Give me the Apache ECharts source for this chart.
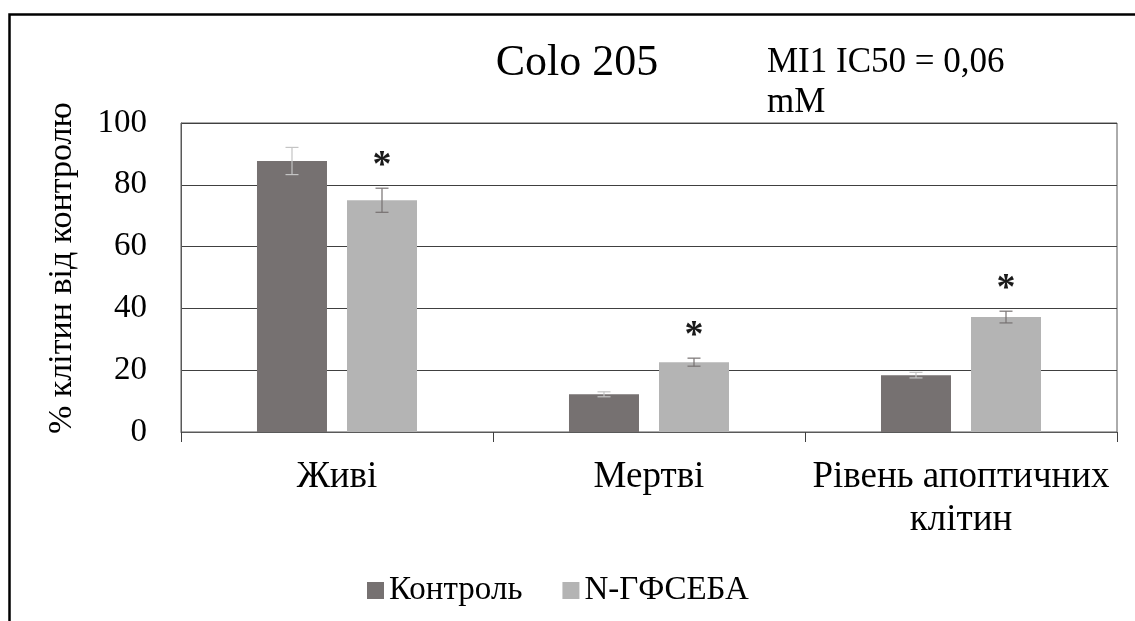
<!DOCTYPE html>
<html>
<head>
<meta charset="utf-8">
<script src="https://cdn.jsdelivr.net/npm/echarts@6/dist/echarts.min.js"></script>
<style>
  html, body { margin: 0; padding: 0; background: #fff; }
  #chart { width: 1135px; height: 621px; }
</style>
</head>
<body>
<div id="chart"></div>
<script>
// Cell groups on the category axis
const categories = ['Живі', 'Мертві', 'Рівень апоптичних\nклітин'];
// Series names
const seriesNames = ['Контроль', 'N-ГФСЕБА'];
// Mean values, % of control
const controlValues = [87.7, 12.2, 18.4];
const treatedValues = [75.0, 22.6, 37.2];
// Error bar half-lengths
const controlErrors = [4.4, 0.8, 0.9];
const treatedErrors = [3.9, 1.3, 1.9];
// Significance marks above the treated bars
const treatedMarks = ['*', '*', '*'];
// Value axis ticks
const yTicks = { min: 0, max: 100, interval: 20 };

const FONT = '"Liberation Serif", "Times New Roman", serif';
const COLORS = ['#767171', '#b4b4b4'];
const ERR_COLORS = ['#c4c4c4', '#767171'];
// bar centre offset from category centre, as a share of the band width
const BAR_SHIFT = 45 / 312;

function errorBarRenderer(side, color) {
  return function (params, api) {
    const idx = api.value(0);
    const v = api.value(1);
    const e = api.value(2);
    const band = api.size([1, 0])[0];
    const x = api.coord([idx, v])[0] + side * band * BAR_SHIFT;
    const yTop = api.coord([idx, v + e])[1];
    const yBot = api.coord([idx, v - e])[1];
    const cap = 6.5;
    const st = { stroke: color, lineWidth: 1.2 };
    return {
      type: 'group',
      children: [
        { type: 'line', shape: { x1: x, y1: yTop, x2: x, y2: yBot }, style: st },
        { type: 'line', shape: { x1: x - cap, y1: yTop, x2: x + cap, y2: yTop }, style: st },
        { type: 'line', shape: { x1: x - cap, y1: yBot, x2: x + cap, y2: yBot }, style: st }
      ]
    };
  };
}

function markRenderer(side) {
  return function (params, api) {
    const idx = api.value(0);
    const v = api.value(1);
    const e = api.value(2);
    const band = api.size([1, 0])[0];
    const x = api.coord([idx, v])[0] + side * band * BAR_SHIFT;
    const yTop = api.coord([idx, v + e])[1];
    return {
      type: 'text',
      style: {
        x: x,
        y: yTop - 22,
        text: treatedMarks[params.dataIndex],
        font: 'bold 38px ' + FONT,
        fill: '#1a1a1a',
        textAlign: 'center',
        textVerticalAlign: 'middle'
      }
    };
  };
}

const chart = echarts.init(document.getElementById('chart'), null, { renderer: 'canvas' });

chart.setOption({
  animation: false,
  backgroundColor: '#fff',
  textStyle: { fontFamily: FONT },
  graphic: [
    { type: 'rect', shape: { x: 9.5, y: 14.5, width: 1300, height: 800 },
      style: { fill: 'none', stroke: '#000', lineWidth: 2.5 }, silent: true },
    { type: 'text', x: 577, y: 63,
      style: { text: 'Colo 205', font: '44px ' + FONT, fill: '#000', textAlign: 'center', textVerticalAlign: 'middle' } },
    { type: 'text', x: 767, y: 63,
      style: { text: 'MI1 IC50 = 0,06', font: '35px ' + FONT, fill: '#000', textAlign: 'left', textVerticalAlign: 'middle' } },
    { type: 'text', x: 767, y: 103,
      style: { text: 'mM', font: '35px ' + FONT, fill: '#000', textAlign: 'left', textVerticalAlign: 'middle' } },
    { type: 'text', x: 62, y: 268, rotation: Math.PI / 2,
      style: { text: '% клітин від контролю', font: '34px ' + FONT, fill: '#000', textAlign: 'center', textVerticalAlign: 'middle' } }
  ],
  grid: { left: 181, right: 18, top: 123, bottom: 189, show: true, borderColor: '#595959', borderWidth: 1 },
  legend: {
    data: seriesNames,
    left: 362,
    top: 569,
    icon: 'rect',
    itemWidth: 17,
    itemHeight: 17,
    itemGap: 40,
    textStyle: { fontFamily: FONT, fontSize: 33, color: '#000' }
  },
  xAxis: {
    type: 'category',
    data: categories,
    axisLine: { lineStyle: { color: '#595959', width: 1 } },
    axisTick: { show: true, length: 10, lineStyle: { color: '#404040' } },
    axisLabel: { fontFamily: FONT, fontSize: 37, color: '#000', margin: 24, lineHeight: 43, interval: 0 }
  },
  yAxis: {
    type: 'value',
    min: yTicks.min,
    max: yTicks.max,
    interval: yTicks.interval,
    axisLine: { show: true, lineStyle: { color: '#595959', width: 1 } },
    axisTick: { show: false },
    splitLine: { lineStyle: { color: '#404040', width: 1 } },
    axisLabel: { fontFamily: FONT, fontSize: 33, color: '#000', margin: 34 }
  },
  series: [
    { name: seriesNames[0], type: 'bar', data: controlValues, barWidth: 70, barGap: '28.6%',
      itemStyle: { color: COLORS[0] } },
    { name: seriesNames[1], type: 'bar', data: treatedValues, barWidth: 70,
      itemStyle: { color: COLORS[1] } },
    { type: 'custom', z: 3, renderItem: errorBarRenderer(-1, ERR_COLORS[0]),
      data: controlValues.map((v, i) => [i, v, controlErrors[i]]) },
    { type: 'custom', z: 3, renderItem: errorBarRenderer(1, ERR_COLORS[1]),
      data: treatedValues.map((v, i) => [i, v, treatedErrors[i]]) },
    { type: 'custom', z: 4, renderItem: markRenderer(1),
      data: treatedValues.map((v, i) => [i, v, treatedErrors[i]]) }
  ]
});
</script>
</body>
</html>
